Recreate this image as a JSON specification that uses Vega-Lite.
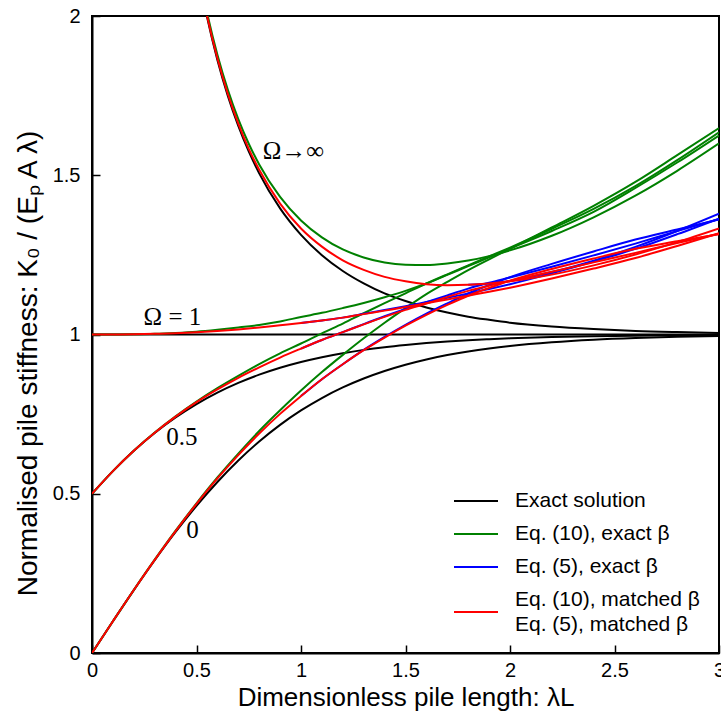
{
"$schema":"https://vega.github.io/schema/vega-lite/v6.json",
"width":627,"height":637,
"autosize":{"type":"none"},
"padding":{"left":92,"top":16,"right":2,"bottom":69},
"config":{"view":{"stroke":"black","strokeWidth":2},"font":"Liberation Sans",
"axis":{"grid":false,"domainColor":"black","domainWidth":2,"tickColor":"black","tickWidth":1.5,"tickSize":-8,"labelColor":"black","titleColor":"black","labelFont":"Liberation Sans","titleFont":"Liberation Sans","titleFontWeight":"normal"},
"legend":{"labelFont":"Liberation Sans","labelColor":"black"},
"style":{"guide-label":{"lineHeight":25}}},
"datasets":{"c":[
{"s":"exact","o":"0","x":0,"y":0},{"s":"exact","o":"0","x":0.1,"y":0.0997},{"s":"exact","o":"0","x":0.2,"y":0.1974},{"s":"exact","o":"0","x":0.3,"y":0.2913},{"s":"exact","o":"0","x":0.4,"y":0.3799},{"s":"exact","o":"0","x":0.5,"y":0.4621},{"s":"exact","o":"0","x":0.6,"y":0.537},{"s":"exact","o":"0","x":0.7,"y":0.6044},{"s":"exact","o":"0","x":0.8,"y":0.664},{"s":"exact","o":"0","x":0.9,"y":0.7163},{"s":"exact","o":"0","x":1.0,"y":0.7616},{"s":"exact","o":"0","x":1.1,"y":0.8005},{"s":"exact","o":"0","x":1.2,"y":0.8337},{"s":"exact","o":"0","x":1.3,"y":0.8617},{"s":"exact","o":"0","x":1.4,"y":0.8854},{"s":"exact","o":"0","x":1.5,"y":0.9051},{"s":"exact","o":"0","x":1.6,"y":0.9217},{"s":"exact","o":"0","x":1.7,"y":0.9354},{"s":"exact","o":"0","x":1.8,"y":0.9468},{"s":"exact","o":"0","x":1.9,"y":0.9562},{"s":"exact","o":"0","x":2.0,"y":0.964},{"s":"exact","o":"0","x":2.2,"y":0.9757},{"s":"exact","o":"0","x":2.4,"y":0.9837},{"s":"exact","o":"0","x":2.6,"y":0.989},{"s":"exact","o":"0","x":2.8,"y":0.9926},{"s":"exact","o":"0","x":3.0,"y":0.9951},
{"s":"exact","o":"0.5","x":0,"y":0.5},{"s":"exact","o":"0.5","x":0.1,"y":0.5712},{"s":"exact","o":"0.5","x":0.2,"y":0.6348},{"s":"exact","o":"0.5","x":0.3,"y":0.6907},{"s":"exact","o":"0.5","x":0.4,"y":0.7394},{"s":"exact","o":"0.5","x":0.5,"y":0.7815},{"s":"exact","o":"0.5","x":0.6,"y":0.8175},{"s":"exact","o":"0.5","x":0.7,"y":0.8481},{"s":"exact","o":"0.5","x":0.8,"y":0.8739},{"s":"exact","o":"0.5","x":0.9,"y":0.8956},{"s":"exact","o":"0.5","x":1.0,"y":0.9137},{"s":"exact","o":"0.5","x":1.1,"y":0.9288},{"s":"exact","o":"0.5","x":1.2,"y":0.9413},{"s":"exact","o":"0.5","x":1.3,"y":0.9517},{"s":"exact","o":"0.5","x":1.4,"y":0.9603},{"s":"exact","o":"0.5","x":1.5,"y":0.9673},{"s":"exact","o":"0.5","x":1.6,"y":0.9732},{"s":"exact","o":"0.5","x":1.7,"y":0.978},{"s":"exact","o":"0.5","x":1.8,"y":0.982},{"s":"exact","o":"0.5","x":1.9,"y":0.9852},{"s":"exact","o":"0.5","x":2.0,"y":0.9879},{"s":"exact","o":"0.5","x":2.2,"y":0.9918},{"s":"exact","o":"0.5","x":2.4,"y":0.9945},{"s":"exact","o":"0.5","x":2.6,"y":0.9963},{"s":"exact","o":"0.5","x":2.8,"y":0.9975},{"s":"exact","o":"0.5","x":3.0,"y":0.9984},
{"s":"exact","o":"1","x":0,"y":1},{"s":"exact","o":"1","x":1,"y":1},{"s":"exact","o":"1","x":2,"y":1},{"s":"exact","o":"1","x":3,"y":1},
{"s":"exact","o":"inf","x":0.5,"y":2.164},{"s":"exact","o":"inf","x":0.55,"y":1.998},{"s":"exact","o":"inf","x":0.6,"y":1.862},{"s":"exact","o":"inf","x":0.65,"y":1.749},{"s":"exact","o":"inf","x":0.7,"y":1.655},{"s":"exact","o":"inf","x":0.75,"y":1.575},{"s":"exact","o":"inf","x":0.8,"y":1.506},{"s":"exact","o":"inf","x":0.9,"y":1.396},{"s":"exact","o":"inf","x":1.0,"y":1.313},{"s":"exact","o":"inf","x":1.1,"y":1.249},{"s":"exact","o":"inf","x":1.2,"y":1.1995},{"s":"exact","o":"inf","x":1.3,"y":1.1605},{"s":"exact","o":"inf","x":1.4,"y":1.129},{"s":"exact","o":"inf","x":1.5,"y":1.105},{"s":"exact","o":"inf","x":1.6,"y":1.085},{"s":"exact","o":"inf","x":1.7,"y":1.069},{"s":"exact","o":"inf","x":1.8,"y":1.056},{"s":"exact","o":"inf","x":1.9,"y":1.046},{"s":"exact","o":"inf","x":2.0,"y":1.037},{"s":"exact","o":"inf","x":2.2,"y":1.025},{"s":"exact","o":"inf","x":2.4,"y":1.017},{"s":"exact","o":"inf","x":2.6,"y":1.011},{"s":"exact","o":"inf","x":2.8,"y":1.0075},{"s":"exact","o":"inf","x":3.0,"y":1.005},
{"s":"g10","o":"0","x":0,"y":0},{"s":"g10","o":"0","x":0.1,"y":0.0997},{"s":"g10","o":"0","x":0.2,"y":0.198},{"s":"g10","o":"0","x":0.3,"y":0.293},{"s":"g10","o":"0","x":0.4,"y":0.384},{"s":"g10","o":"0","x":0.5,"y":0.47},{"s":"g10","o":"0","x":0.6,"y":0.551},{"s":"g10","o":"0","x":0.7,"y":0.626},{"s":"g10","o":"0","x":0.8,"y":0.697},{"s":"g10","o":"0","x":0.9,"y":0.762},{"s":"g10","o":"0","x":1.0,"y":0.824},{"s":"g10","o":"0","x":1.1,"y":0.882},{"s":"g10","o":"0","x":1.2,"y":0.936},{"s":"g10","o":"0","x":1.3,"y":0.988},{"s":"g10","o":"0","x":1.4,"y":1.037},{"s":"g10","o":"0","x":1.5,"y":1.083},{"s":"g10","o":"0","x":1.6,"y":1.127},{"s":"g10","o":"0","x":1.7,"y":1.165},{"s":"g10","o":"0","x":1.8,"y":1.202},{"s":"g10","o":"0","x":1.9,"y":1.236},{"s":"g10","o":"0","x":2.0,"y":1.269},{"s":"g10","o":"0","x":2.2,"y":1.336},{"s":"g10","o":"0","x":2.4,"y":1.404},{"s":"g10","o":"0","x":2.6,"y":1.479},{"s":"g10","o":"0","x":2.8,"y":1.563},{"s":"g10","o":"0","x":3.0,"y":1.648},
{"s":"g10","o":"0.5","x":0,"y":0.5},{"s":"g10","o":"0.5","x":0.1,"y":0.5712},{"s":"g10","o":"0.5","x":0.2,"y":0.6353},{"s":"g10","o":"0.5","x":0.3,"y":0.6924},{"s":"g10","o":"0.5","x":0.4,"y":0.7434},{"s":"g10","o":"0.5","x":0.5,"y":0.7895},{"s":"g10","o":"0.5","x":0.6,"y":0.8315},{"s":"g10","o":"0.5","x":0.7,"y":0.8701},{"s":"g10","o":"0.5","x":0.8,"y":0.9069},{"s":"g10","o":"0.5","x":0.9,"y":0.9406},{"s":"g10","o":"0.5","x":1.0,"y":0.9717},{"s":"g10","o":"0.5","x":1.1,"y":1.0038},{"s":"g10","o":"0.5","x":1.2,"y":1.0343},{"s":"g10","o":"0.5","x":1.3,"y":1.0667},{"s":"g10","o":"0.5","x":1.4,"y":1.0983},{"s":"g10","o":"0.5","x":1.5,"y":1.1293},{"s":"g10","o":"0.5","x":1.6,"y":1.1602},{"s":"g10","o":"0.5","x":1.7,"y":1.189},{"s":"g10","o":"0.5","x":1.8,"y":1.217},{"s":"g10","o":"0.5","x":1.9,"y":1.245},{"s":"g10","o":"0.5","x":2.0,"y":1.273},{"s":"g10","o":"0.5","x":2.2,"y":1.332},{"s":"g10","o":"0.5","x":2.4,"y":1.3945},{"s":"g10","o":"0.5","x":2.6,"y":1.466},{"s":"g10","o":"0.5","x":2.8,"y":1.5475},{"s":"g10","o":"0.5","x":3.0,"y":1.635},
{"s":"g10","o":"1","x":0,"y":1},{"s":"g10","o":"1","x":0.1,"y":1},{"s":"g10","o":"1","x":0.2,"y":1.0005},{"s":"g10","o":"1","x":0.3,"y":1.002},{"s":"g10","o":"1","x":0.4,"y":1.005},{"s":"g10","o":"1","x":0.5,"y":1.009},{"s":"g10","o":"1","x":0.6,"y":1.015},{"s":"g10","o":"1","x":0.7,"y":1.022},{"s":"g10","o":"1","x":0.8,"y":1.03},{"s":"g10","o":"1","x":0.9,"y":1.041},{"s":"g10","o":"1","x":1.0,"y":1.055},{"s":"g10","o":"1","x":1.1,"y":1.068},{"s":"g10","o":"1","x":1.2,"y":1.083},{"s":"g10","o":"1","x":1.3,"y":1.099},{"s":"g10","o":"1","x":1.4,"y":1.117},{"s":"g10","o":"1","x":1.5,"y":1.137},{"s":"g10","o":"1","x":1.6,"y":1.16},{"s":"g10","o":"1","x":1.7,"y":1.187},{"s":"g10","o":"1","x":1.8,"y":1.215},{"s":"g10","o":"1","x":1.9,"y":1.242},{"s":"g10","o":"1","x":2.0,"y":1.27},{"s":"g10","o":"1","x":2.2,"y":1.325},{"s":"g10","o":"1","x":2.4,"y":1.385},{"s":"g10","o":"1","x":2.6,"y":1.46},{"s":"g10","o":"1","x":2.8,"y":1.54},{"s":"g10","o":"1","x":3.0,"y":1.625},
{"s":"g10","o":"inf","x":0.5,"y":2.176},{"s":"g10","o":"inf","x":0.55,"y":2.012},{"s":"g10","o":"inf","x":0.6,"y":1.878},{"s":"g10","o":"inf","x":0.65,"y":1.768},{"s":"g10","o":"inf","x":0.7,"y":1.676},{"s":"g10","o":"inf","x":0.75,"y":1.599},{"s":"g10","o":"inf","x":0.8,"y":1.534},{"s":"g10","o":"inf","x":0.9,"y":1.432},{"s":"g10","o":"inf","x":1.0,"y":1.358},{"s":"g10","o":"inf","x":1.1,"y":1.305},{"s":"g10","o":"inf","x":1.2,"y":1.267},{"s":"g10","o":"inf","x":1.3,"y":1.242},{"s":"g10","o":"inf","x":1.4,"y":1.226},{"s":"g10","o":"inf","x":1.5,"y":1.219},{"s":"g10","o":"inf","x":1.6,"y":1.218},{"s":"g10","o":"inf","x":1.7,"y":1.223},{"s":"g10","o":"inf","x":1.8,"y":1.232},{"s":"g10","o":"inf","x":1.9,"y":1.246},{"s":"g10","o":"inf","x":2.0,"y":1.264},{"s":"g10","o":"inf","x":2.2,"y":1.31},{"s":"g10","o":"inf","x":2.4,"y":1.368},{"s":"g10","o":"inf","x":2.6,"y":1.436},{"s":"g10","o":"inf","x":2.8,"y":1.514},{"s":"g10","o":"inf","x":3.0,"y":1.6},
{"s":"b5","o":"0","x":1.0,"y":0.8066},{"s":"b5","o":"0","x":1.1,"y":0.8595},{"s":"b5","o":"0","x":1.2,"y":0.9067},{"s":"b5","o":"0","x":1.3,"y":0.9517},{"s":"b5","o":"0","x":1.4,"y":0.9924},{"s":"b5","o":"0","x":1.5,"y":1.0306},{"s":"b5","o":"0","x":1.6,"y":1.0657},{"s":"b5","o":"0","x":1.7,"y":1.0979},{"s":"b5","o":"0","x":1.8,"y":1.1288},{"s":"b5","o":"0","x":1.9,"y":1.1552},{"s":"b5","o":"0","x":2.0,"y":1.18},{"s":"b5","o":"0","x":2.2,"y":1.2217},{"s":"b5","o":"0","x":2.4,"y":1.2607},{"s":"b5","o":"0","x":2.6,"y":1.298},{"s":"b5","o":"0","x":2.8,"y":1.3296},{"s":"b5","o":"0","x":3.0,"y":1.3611},
{"s":"b5","o":"0.5","x":1.0,"y":0.9557},{"s":"b5","o":"0.5","x":1.1,"y":0.9828},{"s":"b5","o":"0.5","x":1.2,"y":1.0073},{"s":"b5","o":"0.5","x":1.3,"y":1.0327},{"s":"b5","o":"0.5","x":1.4,"y":1.0573},{"s":"b5","o":"0.5","x":1.5,"y":1.0803},{"s":"b5","o":"0.5","x":1.6,"y":1.1012},{"s":"b5","o":"0.5","x":1.7,"y":1.123},{"s":"b5","o":"0.5","x":1.8,"y":1.144},{"s":"b5","o":"0.5","x":1.9,"y":1.1622},{"s":"b5","o":"0.5","x":2.0,"y":1.1789},{"s":"b5","o":"0.5","x":2.2,"y":1.2128},{"s":"b5","o":"0.5","x":2.4,"y":1.2485},{"s":"b5","o":"0.5","x":2.6,"y":1.2853},{"s":"b5","o":"0.5","x":2.8,"y":1.3245},{"s":"b5","o":"0.5","x":3.0,"y":1.3624},
{"s":"b5","o":"1","x":1.0,"y":1.036},{"s":"b5","o":"1","x":1.1,"y":1.044},{"s":"b5","o":"1","x":1.2,"y":1.053},{"s":"b5","o":"1","x":1.3,"y":1.065},{"s":"b5","o":"1","x":1.4,"y":1.077},{"s":"b5","o":"1","x":1.5,"y":1.089},{"s":"b5","o":"1","x":1.6,"y":1.102},{"s":"b5","o":"1","x":1.7,"y":1.115},{"s":"b5","o":"1","x":1.8,"y":1.129},{"s":"b5","o":"1","x":1.9,"y":1.143},{"s":"b5","o":"1","x":2.0,"y":1.158},{"s":"b5","o":"1","x":2.2,"y":1.192},{"s":"b5","o":"1","x":2.4,"y":1.229},{"s":"b5","o":"1","x":2.6,"y":1.269},{"s":"b5","o":"1","x":2.8,"y":1.315},{"s":"b5","o":"1","x":3.0,"y":1.364},
{"s":"b5","o":"inf","x":1.8,"y":1.156},{"s":"b5","o":"inf","x":1.9,"y":1.16},{"s":"b5","o":"inf","x":2.0,"y":1.168},{"s":"b5","o":"inf","x":2.2,"y":1.196},{"s":"b5","o":"inf","x":2.4,"y":1.232},{"s":"b5","o":"inf","x":2.6,"y":1.275},{"s":"b5","o":"inf","x":2.8,"y":1.325},{"s":"b5","o":"inf","x":3.0,"y":1.379},
{"s":"matched","o":"0","x":0,"y":0},{"s":"matched","o":"0","x":0.1,"y":0.0997},{"s":"matched","o":"0","x":0.2,"y":0.1978},{"s":"matched","o":"0","x":0.3,"y":0.2925},{"s":"matched","o":"0","x":0.4,"y":0.3829},{"s":"matched","o":"0","x":0.5,"y":0.4681},{"s":"matched","o":"0","x":0.6,"y":0.548},{"s":"matched","o":"0","x":0.7,"y":0.6214},{"s":"matched","o":"0","x":0.8,"y":0.689},{"s":"matched","o":"0","x":0.9,"y":0.7508},{"s":"matched","o":"0","x":1.0,"y":0.8066},{"s":"matched","o":"0","x":1.1,"y":0.8595},{"s":"matched","o":"0","x":1.2,"y":0.9067},{"s":"matched","o":"0","x":1.3,"y":0.9507},{"s":"matched","o":"0","x":1.4,"y":0.9904},{"s":"matched","o":"0","x":1.5,"y":1.0276},{"s":"matched","o":"0","x":1.6,"y":1.0617},{"s":"matched","o":"0","x":1.7,"y":1.0929},{"s":"matched","o":"0","x":1.8,"y":1.1218},{"s":"matched","o":"0","x":1.9,"y":1.1462},{"s":"matched","o":"0","x":2.0,"y":1.169},{"s":"matched","o":"0","x":2.2,"y":1.2057},{"s":"matched","o":"0","x":2.4,"y":1.2387},{"s":"matched","o":"0","x":2.6,"y":1.269},{"s":"matched","o":"0","x":2.8,"y":1.2926},{"s":"matched","o":"0","x":3.0,"y":1.3151},
{"s":"matched","o":"0.5","x":0,"y":0.5},{"s":"matched","o":"0.5","x":0.1,"y":0.5712},{"s":"matched","o":"0.5","x":0.2,"y":0.6352},{"s":"matched","o":"0.5","x":0.3,"y":0.6918},{"s":"matched","o":"0.5","x":0.4,"y":0.7422},{"s":"matched","o":"0.5","x":0.5,"y":0.7875},{"s":"matched","o":"0.5","x":0.6,"y":0.8275},{"s":"matched","o":"0.5","x":0.7,"y":0.8641},{"s":"matched","o":"0.5","x":0.8,"y":0.8969},{"s":"matched","o":"0.5","x":0.9,"y":0.9276},{"s":"matched","o":"0.5","x":1.0,"y":0.9557},{"s":"matched","o":"0.5","x":1.1,"y":0.9828},{"s":"matched","o":"0.5","x":1.2,"y":1.0073},{"s":"matched","o":"0.5","x":1.3,"y":1.0317},{"s":"matched","o":"0.5","x":1.4,"y":1.0553},{"s":"matched","o":"0.5","x":1.5,"y":1.0773},{"s":"matched","o":"0.5","x":1.6,"y":1.0972},{"s":"matched","o":"0.5","x":1.7,"y":1.118},{"s":"matched","o":"0.5","x":1.8,"y":1.137},{"s":"matched","o":"0.5","x":1.9,"y":1.1532},{"s":"matched","o":"0.5","x":2.0,"y":1.1679},{"s":"matched","o":"0.5","x":2.2,"y":1.1968},{"s":"matched","o":"0.5","x":2.4,"y":1.2265},{"s":"matched","o":"0.5","x":2.6,"y":1.2563},{"s":"matched","o":"0.5","x":2.8,"y":1.2875},{"s":"matched","o":"0.5","x":3.0,"y":1.3164},
{"s":"matched","o":"1","x":0,"y":1},{"s":"matched","o":"1","x":0.1,"y":1},{"s":"matched","o":"1","x":0.2,"y":1.0005},{"s":"matched","o":"1","x":0.3,"y":1.002},{"s":"matched","o":"1","x":0.4,"y":1.004},{"s":"matched","o":"1","x":0.5,"y":1.007},{"s":"matched","o":"1","x":0.6,"y":1.011},{"s":"matched","o":"1","x":0.7,"y":1.016},{"s":"matched","o":"1","x":0.8,"y":1.022},{"s":"matched","o":"1","x":0.9,"y":1.029},{"s":"matched","o":"1","x":1.0,"y":1.036},{"s":"matched","o":"1","x":1.1,"y":1.044},{"s":"matched","o":"1","x":1.2,"y":1.053},{"s":"matched","o":"1","x":1.3,"y":1.064},{"s":"matched","o":"1","x":1.4,"y":1.075},{"s":"matched","o":"1","x":1.5,"y":1.086},{"s":"matched","o":"1","x":1.6,"y":1.098},{"s":"matched","o":"1","x":1.7,"y":1.11},{"s":"matched","o":"1","x":1.8,"y":1.122},{"s":"matched","o":"1","x":1.9,"y":1.134},{"s":"matched","o":"1","x":2.0,"y":1.147},{"s":"matched","o":"1","x":2.2,"y":1.176},{"s":"matched","o":"1","x":2.4,"y":1.207},{"s":"matched","o":"1","x":2.6,"y":1.24},{"s":"matched","o":"1","x":2.8,"y":1.278},{"s":"matched","o":"1","x":3.0,"y":1.318},
{"s":"matched","o":"inf","x":0.5,"y":2.1667},{"s":"matched","o":"inf","x":0.55,"y":2.002},{"s":"matched","o":"inf","x":0.6,"y":1.867},{"s":"matched","o":"inf","x":0.65,"y":1.755},{"s":"matched","o":"inf","x":0.7,"y":1.662},{"s":"matched","o":"inf","x":0.75,"y":1.583},{"s":"matched","o":"inf","x":0.8,"y":1.517},{"s":"matched","o":"inf","x":0.9,"y":1.411},{"s":"matched","o":"inf","x":1.0,"y":1.333},{"s":"matched","o":"inf","x":1.1,"y":1.276},{"s":"matched","o":"inf","x":1.2,"y":1.233},{"s":"matched","o":"inf","x":1.3,"y":1.203},{"s":"matched","o":"inf","x":1.4,"y":1.181},{"s":"matched","o":"inf","x":1.5,"y":1.167},{"s":"matched","o":"inf","x":1.6,"y":1.158},{"s":"matched","o":"inf","x":1.7,"y":1.155},{"s":"matched","o":"inf","x":1.8,"y":1.156},{"s":"matched","o":"inf","x":1.9,"y":1.16},{"s":"matched","o":"inf","x":2.0,"y":1.167},{"s":"matched","o":"inf","x":2.2,"y":1.188},{"s":"matched","o":"inf","x":2.4,"y":1.217},{"s":"matched","o":"inf","x":2.6,"y":1.251},{"s":"matched","o":"inf","x":2.8,"y":1.29},{"s":"matched","o":"inf","x":3.0,"y":1.333}
],
"t":[{"x":0.964,"y":1.576,"t":"Ω→∞"},{"x":0.385,"y":1.055,"t":"Ω = 1"},{"x":0.43,"y":0.678,"t":"0.5"},{"x":0.481,"y":0.386,"t":"0"}]},
"encoding":{
"x":{"field":"x","type":"quantitative","scale":{"domain":[0,3],"nice":false,"zero":false},"axis":{"values":[0,0.5,1,1.5,2,2.5,3],"format":"~g","title":"Dimensionless pile length: λL","labelFontSize":20,"titleFontSize":26,"labelPadding":15,"titlePadding":4,"labelFlush":false}},
"y":{"field":"y","type":"quantitative","scale":{"domain":[0,2],"nice":false,"zero":false},"axis":{"values":[0,0.5,1,1.5,2],"format":"~g","title":"Normalised pile stiffness: K₀ / (Eₚ A λ)","labelFontSize":20,"titleFontSize":28,"labelPadding":20,"titlePadding":10,"titleY":347,"labelFlush":false}}
},
"layer":[
{"data":{"name":"c"},"transform":[{"filter":{"field":"s","equal":"exact"}}],"mark":{"type":"line","clip":true,"strokeWidth":2,"interpolate":"monotone"},
 "encoding":{"detail":{"field":"o"},"color":{"field":"s","type":"nominal","scale":{"domain":["exact","g10","b5","matched"],"range":["#000000","#008000","#0000ff","#ff0000"]},
 "legend":{"orient":"none","legendX":361,"legendY":462,"title":null,"symbolType":"stroke","symbolSize":1936,"symbolStrokeWidth":2,"labelFontSize":21,"labelOffset":16,"rowPadding":-3.5,"labelLimit":500,"padding":0,
 "labelExpr":"datum.label=='exact'?'Exact solution':datum.label=='g10'?'Eq. (10), exact β':datum.label=='b5'?'Eq. (5), exact β':['Eq. (10), matched β','Eq. (5), matched β']",
 "encode":{"symbols":{"update":{"shape":{"signal":"datum.value=='matched' ? 'M-1,0.55H1' : 'stroke'"}}}}}}}},
{"data":{"name":"c"},"transform":[{"filter":{"field":"s","equal":"g10"}}],"mark":{"type":"line","clip":true,"strokeWidth":2,"interpolate":"monotone"},
 "encoding":{"detail":{"field":"o"},"color":{"field":"s","type":"nominal"}}},
{"data":{"name":"c"},"transform":[{"filter":{"field":"s","equal":"b5"}}],"mark":{"type":"line","clip":true,"strokeWidth":2,"interpolate":"monotone"},
 "encoding":{"detail":{"field":"o"},"color":{"field":"s","type":"nominal"}}},
{"data":{"name":"c"},"transform":[{"filter":{"field":"s","equal":"matched"}}],"mark":{"type":"line","clip":true,"strokeWidth":2,"interpolate":"monotone"},
 "encoding":{"detail":{"field":"o"},"color":{"field":"s","type":"nominal"}}},
{"data":{"name":"t"},"mark":{"type":"text","font":"Liberation Serif","fontSize":25,"align":"center","baseline":"middle","color":"black"},
 "encoding":{"text":{"field":"t"}}}
]
}
